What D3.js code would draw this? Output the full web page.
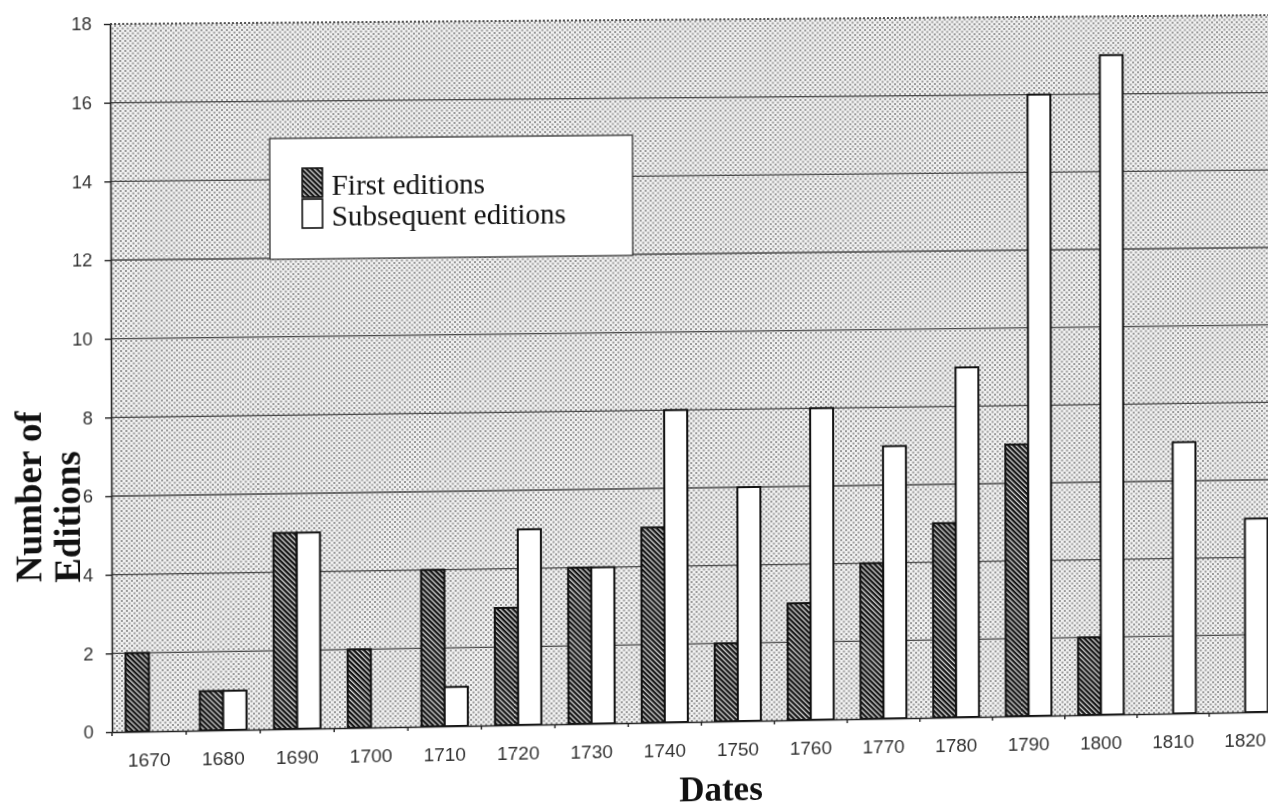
<!DOCTYPE html>
<html>
<head>
<meta charset="utf-8">
<script src="https://cdn.jsdelivr.net/npm/d3@7"></script>
<style>
    html, body { margin: 0; padding: 0; background: #fff; overflow: hidden; }
    #chart { position: absolute; left: 0; top: 0; transform-origin: 0 0; }
</style>
</head>
<body>
<svg id="chart"></svg>
<script>
var dates = ['1670', '1680', '1690', '1700', '1710', '1720', '1730', '1740',
             '1750', '1760', '1770', '1780', '1790', '1800', '1810', '1820'];
var firstEditions = [2, 1, 5, 2, 4, 3, 4, 5, 2, 3, 4, 5, 7, 2, 0, 0];
var subsequentEditions = [0, 1, 5, 0, 1, 5, 4, 8, 6, 8, 7, 9, 16, 17, 7, 5];
var seriesNames = ['First editions', 'Subsequent editions'];
var yTicks = [0, 2, 4, 6, 8, 10, 12, 14, 16, 18];

var W = 1300, H = 830,
    plotL = 111, plotR = 1280, plotT = 24, plotB = 732;

var svg = d3.select('#chart')
    .attr('width', W)
    .attr('height', H);

svg.append('rect').attr('width', W).attr('height', H).attr('fill', '#fff');

// Patterns: stippled plot area and hatched first-edition bars
var defs = svg.append('defs');
var dots = defs.append('pattern')
    .attr('id', 'dots')
    .attr('patternUnits', 'userSpaceOnUse')
    .attr('width', 5).attr('height', 5);
dots.append('rect').attr('width', 5).attr('height', 5).attr('fill', '#f2f2f2');
dots.append('rect').attr('x', 0).attr('y', 0).attr('width', 2).attr('height', 2).attr('fill', '#999');
dots.append('rect').attr('x', 2.5).attr('y', 2.5).attr('width', 2).attr('height', 2).attr('fill', '#999');

var hatch = defs.append('pattern')
    .attr('id', 'hatch')
    .attr('patternUnits', 'userSpaceOnUse')
    .attr('width', 3.6).attr('height', 3.6)
    .attr('patternTransform', 'rotate(-45)');
hatch.append('rect').attr('width', 3.6).attr('height', 3.6).attr('fill', '#111');
hatch.append('rect').attr('width', 1.3).attr('height', 3.6).attr('fill', '#ddd');

var x = d3.scaleBand()
    .domain(dates)
    .range([plotL, plotR])
    .paddingInner(0.37)
    .paddingOuter(0.185);

var xSeries = d3.scaleBand()
    .domain(seriesNames)
    .range([0, x.bandwidth()]);

var y = d3.scaleLinear()
    .domain([0, 18])
    .range([plotB, plotT]);

// plot area
svg.append('rect')
    .attr('x', plotL).attr('y', plotT)
    .attr('width', plotR - plotL).attr('height', plotB - plotT)
    .attr('fill', 'url(#dots)');

// gridlines
svg.append('g').selectAll('line')
    .data(yTicks.filter(function (d) { return d > 0; }))
    .enter()
    .append('line')
    .attr('x1', plotL).attr('x2', plotR)
    .attr('y1', function (d) { return y(d); })
    .attr('y2', function (d) { return y(d); })
    .attr('stroke', function (d) { return d === 18 ? '#222' : '#4a4a4a'; })
    .attr('stroke-width', function (d) { return d === 18 ? 1.6 : 1.3; })
    .attr('stroke-dasharray', function (d) { return d === 18 ? '2,2' : null; });

// y axis
var yAxis = svg.append('g')
    .attr('transform', 'translate(' + plotL + ',0)')
    .call(d3.axisLeft(y).tickValues(yTicks).tickSize(6).tickPadding(12).tickSizeOuter(0));
yAxis.select('.domain').attr('stroke', '#222').attr('stroke-width', 1.6);
yAxis.selectAll('.tick line').attr('stroke', '#222').attr('stroke-width', 1.4);
yAxis.selectAll('text')
    .attr('font-family', "'Liberation Sans', Arial, sans-serif")
    .attr('font-size', 18)
    .attr('fill', '#333');

// bars
var series = [firstEditions, subsequentEditions];
var groups = svg.append('g').selectAll('g')
    .data(dates)
    .enter()
    .append('g')
    .attr('transform', function (d) { return 'translate(' + x(d) + ',0)'; });

groups.selectAll('rect')
    .data(function (d, i) {
        return seriesNames.map(function (name, s) {
            return { name: name, value: series[s][i] };
        }).filter(function (e) { return e.value > 0; });
    })
    .enter()
    .append('rect')
    .attr('x', function (d) { return xSeries(d.name); })
    .attr('y', function (d) { return y(d.value); })
    .attr('width', xSeries.bandwidth())
    .attr('height', function (d) { return y(0) - y(d.value); })
    .attr('fill', function (d) { return d.name === seriesNames[0] ? 'url(#hatch)' : '#fff'; })
    .attr('stroke', '#111')
    .attr('stroke-width', 2);

// x axis: labels under each date, small ticks between dates
var xAxis = svg.append('g')
    .attr('transform', 'translate(0,' + plotB + ')')
    .call(d3.axisBottom(x).tickSize(0).tickPadding(22).tickSizeOuter(0));
xAxis.select('.domain').attr('stroke', '#222').attr('stroke-width', 1.6);
xAxis.selectAll('text')
    .attr('font-family', "'Liberation Sans', Arial, sans-serif")
    .attr('font-size', 19)
    .attr('fill', '#333');

var gap = x.step() * x.paddingInner() / 2;
xAxis.append('g').selectAll('line')
    .data(dates.concat(['end']))
    .enter()
    .append('line')
    .attr('x1', function (d) { return d === 'end' ? plotR : x(d) - gap; })
    .attr('x2', function (d) { return d === 'end' ? plotR : x(d) - gap; })
    .attr('y1', 0).attr('y2', 4)
    .attr('stroke', '#222').attr('stroke-width', 1.4);

// axis titles
var serif = "'Liberation Serif', 'Times New Roman', serif";
svg.append('text')
    .attr('transform', 'translate(42,581) rotate(-90)')
    .attr('font-family', serif).attr('font-weight', 'bold').attr('font-size', 37)
    .attr('fill', '#111')
    .text('Number of');
svg.append('text')
    .attr('transform', 'translate(80,582) rotate(-90)')
    .attr('font-family', serif).attr('font-weight', 'bold').attr('font-size', 37)
    .attr('fill', '#111')
    .text('Editions');
svg.append('text')
    .attr('x', 715).attr('y', 812)
    .attr('text-anchor', 'middle')
    .attr('font-family', serif).attr('font-weight', 'bold').attr('font-size', 35)
    .attr('fill', '#111')
    .text('Dates');

// legend
var legend = svg.append('g').attr('transform', 'translate(268,140)');
legend.append('rect')
    .attr('width', 360).attr('height', 121)
    .attr('fill', '#fff').attr('stroke', '#333').attr('stroke-width', 1.3);
var items = legend.selectAll('g.item')
    .data(seriesNames)
    .enter()
    .append('g')
    .attr('class', 'item')
    .attr('transform', function (d, i) { return 'translate(32,' + (30 + i * 31) + ')'; });
items.append('rect')
    .attr('width', 20).attr('height', 29)
    .attr('fill', function (d, i) { return i === 0 ? 'url(#hatch)' : '#fff'; })
    .attr('stroke', '#111').attr('stroke-width', 1.6);
items.append('text')
    .attr('x', 29).attr('y', 27)
    .attr('font-family', serif).attr('font-size', 29)
    .attr('fill', '#111')
    .text(function (d) { return d; });

// the scanned original is slightly tilted: map the plot corners onto where they sit in the scan
function tilt(src, q) {
    var dx1 = q[1][0] - q[2][0], dx2 = q[3][0] - q[2][0], dx3 = q[0][0] - q[1][0] + q[2][0] - q[3][0],
        dy1 = q[1][1] - q[2][1], dy2 = q[3][1] - q[2][1], dy3 = q[0][1] - q[1][1] + q[2][1] - q[3][1],
        den = dx1 * dy2 - dx2 * dy1,
        g = (dx3 * dy2 - dx2 * dy3) / den,
        h = (dx1 * dy3 - dx3 * dy1) / den,
        a = q[1][0] - q[0][0] + g * q[1][0], b = q[3][0] - q[0][0] + h * q[3][0], c = q[0][0],
        d = q[1][1] - q[0][1] + g * q[1][1], e = q[3][1] - q[0][1] + h * q[3][1], f = q[0][1];
    var sx = src[0], sy = src[1], sw = src[2], sh = src[3];
    var A = a / sw, B = b / sh, C = c - a * sx / sw - b * sy / sh,
        D = d / sw, E = e / sh, F = f - d * sx / sw - e * sy / sh,
        G = g / sw, Hh = h / sh, I = 1 - g * sx / sw - h * sy / sh;
    return 'matrix3d(' + [A, D, 0, G, B, E, 0, Hh, 0, 0, 1, 0, C, F, 0, I].join(',') + ')';
}

d3.select('#chart').style('transform', tilt(
    [plotL, plotT, plotR - plotL, plotB - plotT],
    [[110, 24], [1280, 15], [1281, 711.5], [112, 732]]
));
</script>
</body>
</html>
